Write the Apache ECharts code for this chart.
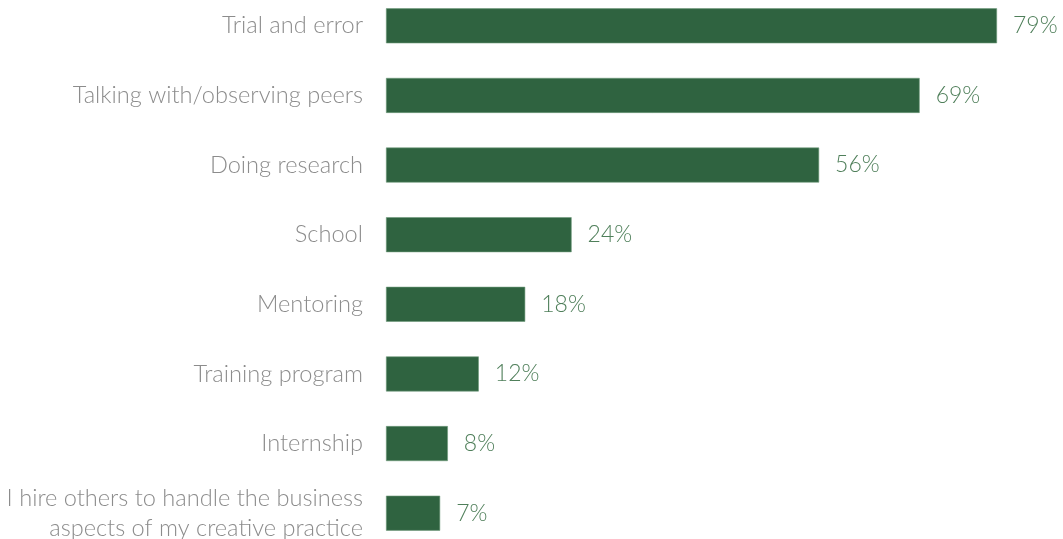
<!DOCTYPE html>
<html>
<head>
<meta charset="utf-8">
<script src="https://cdn.jsdelivr.net/npm/echarts@6/dist/echarts.min.js"></script>
<style>
  html, body { margin: 0; padding: 0; background: #fff; }
  #chart { width: 1063px; height: 539px; }
</style>
</head>
<body>
<div id="chart"></div>
<script>
// Ways respondents learned the business side of their practice
const categories = [
  'Trial and error',
  'Talking with/observing peers',
  'Doing research',
  'School',
  'Mentoring',
  'Training program',
  'Internship',
  'I hire others to handle the business\naspects of my creative practice'
];
const shares = [79, 69, 56, 24, 18, 12, 8, 7];

const chart = echarts.init(document.getElementById('chart'));
chart.setOption({
  animation: false,
  grid: { left: 386, right: 66, top: -9, height: 557, outerBoundsMode: 'none' },
  xAxis: {
    type: 'value', min: 0, max: 79,
    show: false
  },
  yAxis: {
    type: 'category',
    data: categories,
    inverse: true,
    axisLine: { show: false },
    axisTick: { show: false },
    axisLabel: {
      margin: 23,
      color: '#8c8c8c',
      fontFamily: 'Lato',
      fontWeight: 300,
      fontSize: 23.6,
      lineHeight: 30,
      align: 'right'
    }
  },
  series: [{
    type: 'bar',
    data: shares,
    barWidth: 35,
    itemStyle: { color: '#2f6340', borderColor: '#6f9a7b', borderWidth: 0.6 },
    label: {
      show: true,
      position: 'right',
      distance: 16,
      formatter: '{c}%',
      color: '#4f7f5a',
      fontFamily: 'Lato',
      fontWeight: 300,
      fontSize: 23
    }
  }]
});
</script>
</body>
</html>
